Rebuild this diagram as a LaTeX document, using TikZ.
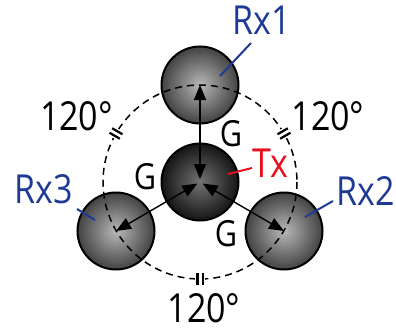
\documentclass[tikz,border=0pt]{standalone}
\usepackage{fontspec}
\setmainfont{Open Sans}[FakeStretch=0.85]
\usetikzlibrary{arrows.meta}
\definecolor{rxblue}{HTML}{1E3A94}
\definecolor{txred}{HTML}{E8101E}
\tikzset{
  rxball/.style={circle, draw=black, line width=2pt, minimum size=77pt, inner sep=0pt, inner color=black!28, outer color=black!74},
  txball/.style={circle, draw=black, line width=2pt, minimum size=77pt, inner sep=0pt, inner color=black!55, outer color=black!92},
  bigtext/.style={font=\fontsize{40}{40}\selectfont, inner sep=0pt, anchor=base},
  gtext/.style={font=\fontsize{36}{36}\selectfont, inner sep=0pt, anchor=base},
  link/.style={line width=1.4pt, {Triangle[length=15pt,width=12pt]}-{Triangle[length=15pt,width=12pt]}},
  tick/.style={line width=2.2pt},
  leader/.style={line width=2pt}
}
\begin{document}
\begin{tikzpicture}[x=1pt,y=-1pt]
\useasboundingbox (0,0) rectangle (396,329);
% spheres
\node[rxball] (rx1) at (200,85) {};
\node[rxball] (rx2) at (284,231) {};
\node[rxball] (rx3) at (116,231) {};
\node[txball] (tx) at (200,182) {};
\coordinate (c) at (200,182);
% dashed circle
\draw[line width=1.5pt, dash pattern=on 7pt off 5pt] (c) circle[radius=97];
% ticks (screen angles, counterclockwise)
\foreach \a in {150,30,270}{
  \begin{scope}[shift={(c)}, rotate=\a]
    \fill[white] (93,-5) rectangle (101,5);
    \draw[tick] (91,-2.6) -- (103,-2.6);
    \draw[tick] (91,2.6) -- (103,2.6);
  \end{scope}
}
% arrows
\draw[link, shorten <=3pt] (tx.center) -- (rx1.center);
\draw[link, shorten <=3pt] (tx.center) -- (rx2.center);
\draw[link, shorten <=3pt] (tx.center) -- (rx3.center);
% labels (base anchors)
\node[bigtext, text=rxblue] (l1) at (262,35) {Rx1};
\node[bigtext, text=rxblue] (l2) at (366,205) {Rx2};
\node[bigtext, text=rxblue] (l3) at (43.5,203) {Rx3};
\node[bigtext, text=txred] (lt) at (270,177.5) {Tx};
\node[bigtext] (a1) at (76.5,130) {120°};
\node[bigtext] (a2) at (328,130) {120°};
\node[bigtext] (a3) at (204,322) {120°};
\node[gtext] (g1) at (231,146.5) {G};
\node[gtext] (g2) at (145,189) {G};
\node[gtext] (g3) at (226,246.5) {G};
% leaders
\coordinate (p1a) at (220,76); \coordinate (p1b) at (251,43);
\coordinate (p2a) at (305,217); \coordinate (p2b) at (333,201);
\coordinate (p3a) at (95,220); \coordinate (p3b) at (77,209);
\coordinate (pta) at (228,174); \coordinate (ptb) at (252,168);
\draw[leader, draw=rxblue] (p1a) -- (p1b);
\draw[leader, draw=rxblue] (p2a) -- (p2b);
\draw[leader, draw=rxblue] (p3a) -- (p3b);
\draw[leader, draw=txred] (pta) -- (ptb);
\end{tikzpicture}
\end{document}
